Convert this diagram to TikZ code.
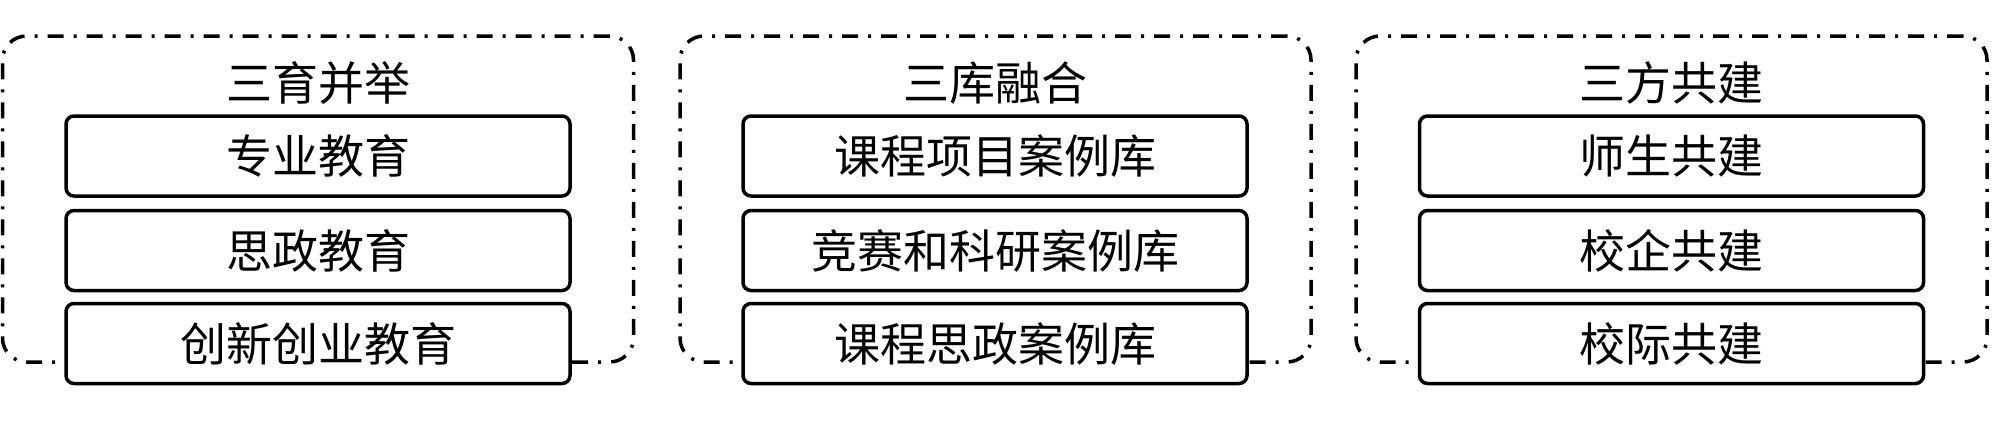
\documentclass[tikz,border=0pt]{standalone}
\usepackage{fontspec}
\setmainfont{Noto Sans CJK SC}
\begin{document}
\begin{tikzpicture}[x=1pt,y=-1pt,
  group/.style={draw=black,line width=3.5pt,rounded corners=24pt,inner sep=0pt,
    minimum width=631pt,minimum height=326pt,dash pattern=on 16pt off 10pt on 3pt off 10pt},
  item/.style={draw=black,fill=white,line width=3.5pt,rounded corners=8pt,inner sep=0pt,
    minimum width=504pt,minimum height=80pt,font=\fontsize{46}{50}\selectfont},
  title/.style={inner sep=0pt,font=\fontsize{46}{50}\selectfont}]
\useasboundingbox (0,0) rectangle (1999,426);
\foreach \n/\x in {g1/318,g2/995.5,g3/1671.5}{\node[group] (\n) at (\x,199) {};}
\node[title] (t1) at (318,83) {三育并举};
\node[title] (t2) at (995.5,83) {三库融合};
\node[title] (t3) at (1671.5,83) {三方共建};
\node[item] (a1) at (318,156) {专业教育};
\node[item] (a2) at (318,250.5) {思政教育};
\node[item] (a3) at (318,343.5) {创新创业教育};
\node[item] (b1) at (995,156) {课程项目案例库};
\node[item] (b2) at (995,250.5) {竞赛和科研案例库};
\node[item] (b3) at (995,343.5) {课程思政案例库};
\node[item] (c1) at (1671.5,156) {师生共建};
\node[item] (c2) at (1671.5,250.5) {校企共建};
\node[item] (c3) at (1671.5,343.5) {校际共建};
\end{tikzpicture}
\end{document}
